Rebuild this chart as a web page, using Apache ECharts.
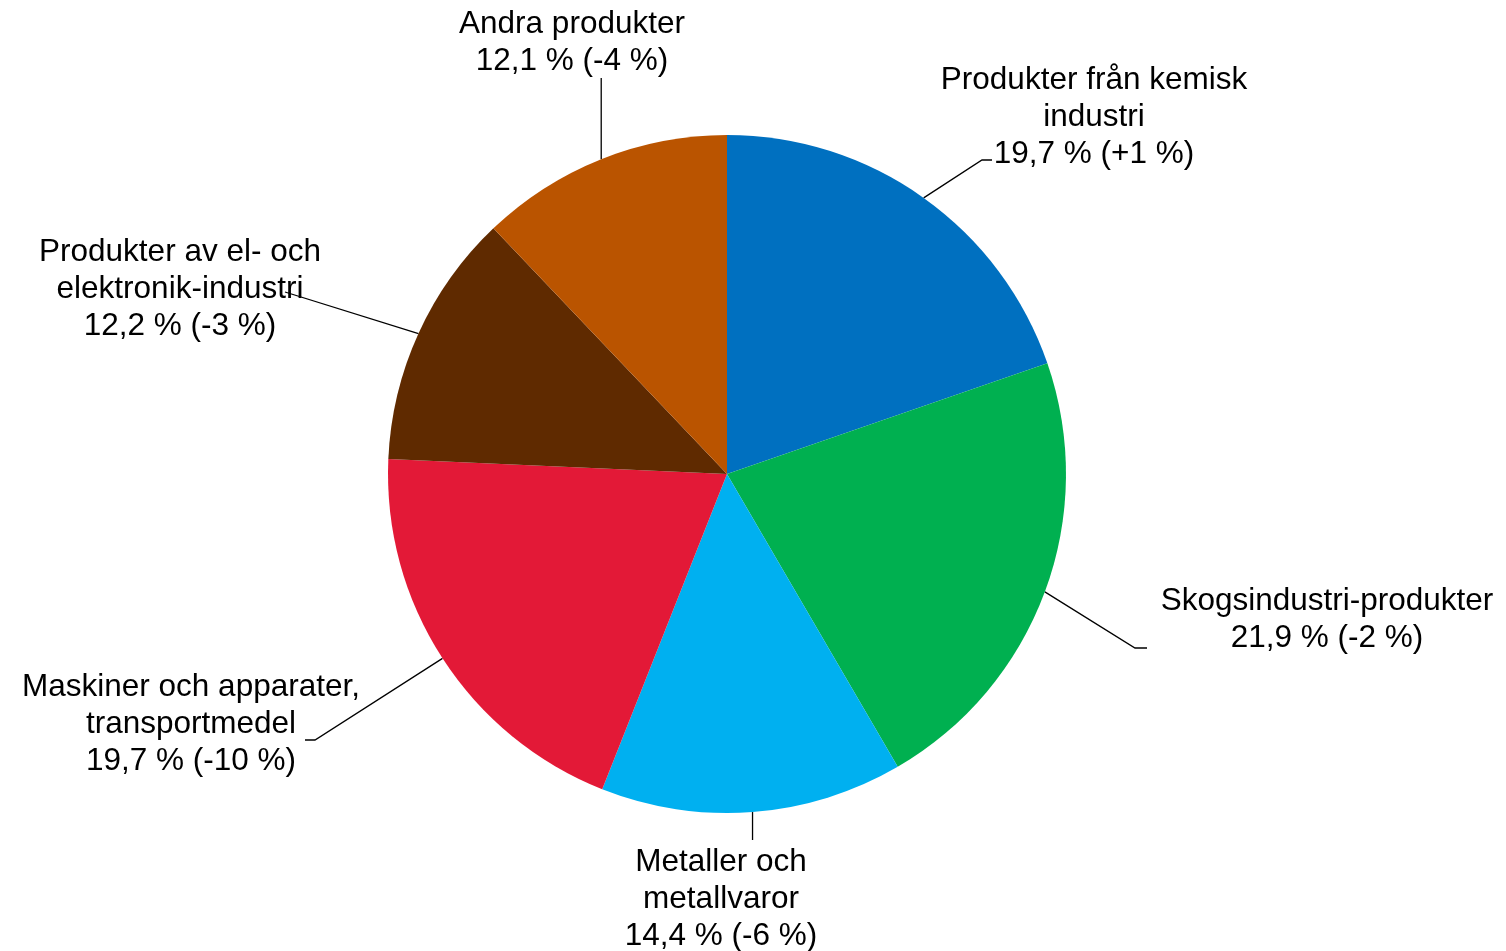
<!DOCTYPE html>
<html>
<head>
<meta charset="utf-8">
<script src="https://cdn.jsdelivr.net/npm/echarts@6/dist/echarts.min.js"></script>
<style>
  html, body { margin: 0; padding: 0; background: #fff; }
</style>
</head>
<body>
<div id="main" style="width:1506px;height:951px"></div>
<script>
// varugrupper, andel av exporten och förändring
const categories = [
  'Produkter från kemisk\nindustri',
  'Skogsindustri-produkter',
  'Metaller och\nmetallvaror',
  'Maskiner och apparater,\ntransportmedel',
  'Produkter av el- och\nelektronik-industri',
  'Andra produkter'
];
const shares = [19.7, 21.9, 14.4, 19.7, 12.2, 12.1];
const changes = ['+1', '-2', '-6', '-10', '-3', '-4'];

const colors = ['#0070C0', '#00B050', '#00B0F0', '#E31937', '#5F2A00', '#BA5400'];

// etikettplacering: mitt på texten + knäckpunkter för hjälplinjen
const labelPos = [
  { x: 1094, y: 117, line: [[982, 160], [992, 160]] },
  { x: 1327, y: 620, line: [[1135, 648], [1147, 648]] },
  { x: 721, y: 899, line: [[null, 840]] },
  { x: 191, y: 724, line: [[315, 740], [305, 740]] },
  { x: 180, y: 289, line: [[285, 292]] },
  { x: 572, y: 43, line: [[null, 78]] }
];

const myChart = echarts.init(document.getElementById('main'));

myChart.setOption({
  animation: false,
  color: colors,
  series: [{
    type: 'pie',
    center: [727, 474],
    radius: 339,
    startAngle: 90,
    clockwise: true,
    avoidLabelOverlap: false,
    data: categories.map((c, i) => ({ name: c, value: shares[i] })),
    label: {
      show: true,
      position: 'outside',
      color: '#000',
      fontFamily: 'Liberation Sans, Arial, sans-serif',
      fontSize: 31.5,
      lineHeight: 37,
      align: 'center',
      formatter: p => p.name + '\n' + shares[p.dataIndex].toFixed(1).replace('.', ',') +
        ' % (' + changes[p.dataIndex] + ' %)'
    },
    labelLine: {
      show: true,
      lineStyle: { color: '#000', width: 1.3 }
    },
    labelLayout: params => {
      const lp = labelPos[params.dataIndex];
      const p0 = params.labelLinePoints[0];
      const pts = [p0].concat(lp.line.map(pt => [pt[0] == null ? p0[0] : pt[0], pt[1]]));
      return {
        x: lp.x,
        y: lp.y,
        align: 'center',
        verticalAlign: 'middle',
        labelLinePoints: pts
      };
    },
    emphasis: { disabled: true }
  }]
});
</script>
</body>
</html>
